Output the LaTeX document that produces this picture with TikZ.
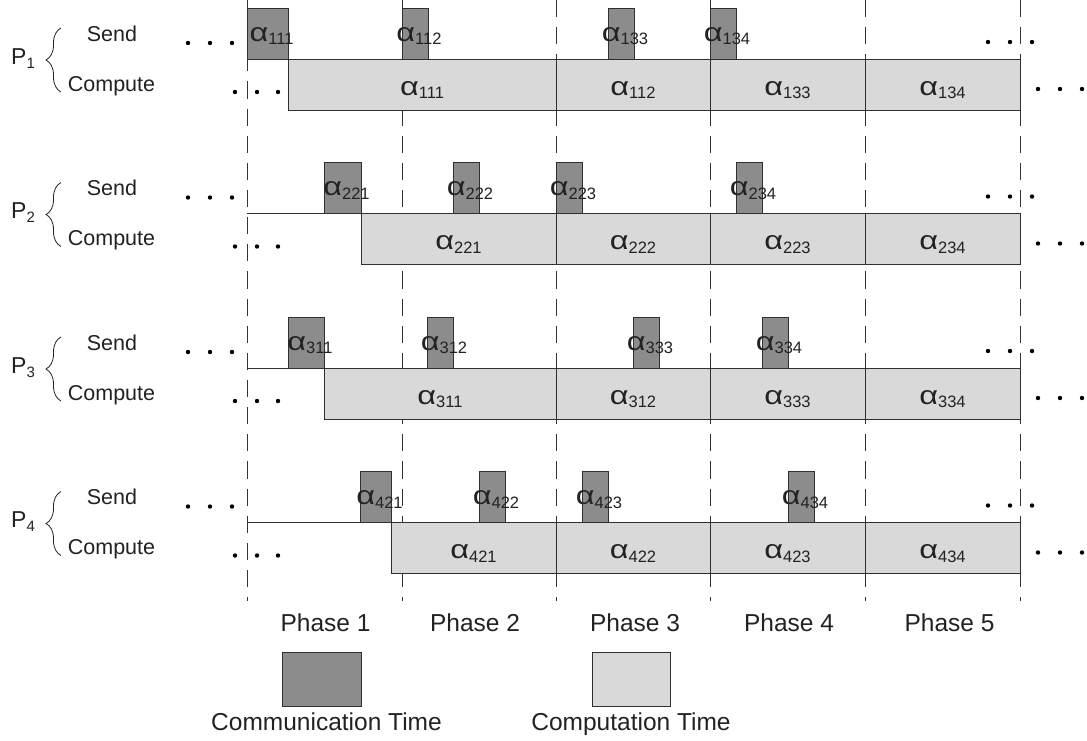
\documentclass[tikz,border=0pt]{standalone}
\usepackage{fontspec}
\usepackage{graphicx}
\setmainfont{Liberation Sans}
\usetikzlibrary{decorations.pathreplacing}
\definecolor{commgray}{HTML}{8C8C8C}
\definecolor{compgray}{HTML}{D9D9D9}
\definecolor{edgegray}{HTML}{303030}
\definecolor{txtgray}{HTML}{222222}
\newcommand\al[1]{\scalebox{1.25}[1]{α}\raisebox{-3.5pt}{\fontsize{16.5}{16.5}\selectfont #1}}
\begin{document}
\begin{tikzpicture}[x=1pt,y=-1pt,
  commbox/.style={draw=edgegray, fill=commgray, line width=0.9pt, inner sep=0pt, outer sep=0pt, minimum height=51pt},
  compbox/.style={draw=edgegray, fill=compgray, line width=0.9pt, inner sep=0pt, outer sep=0pt, minimum height=51pt},
  lab/.style={font=\fontsize{26}{26}\selectfont, text=txtgray, inner sep=0pt},
  rowtext/.style={font=\fontsize{21.5}{21.5}\selectfont, text=txtgray, inner sep=0pt, anchor=base},
  bigtext/.style={font=\fontsize{24.5}{24.5}\selectfont, text=txtgray, inner sep=0pt, anchor=base},
  phaseline/.style={draw=black!80, line width=1pt, dash pattern=on 17.14pt off 10pt},
  baseline/.style={draw=edgegray, line width=0.9pt},
  dotmark/.style={circle, fill=black, inner sep=0pt, minimum size=4.4pt},
  bracestyle/.style={draw=txtgray, line width=0.8pt, decorate, decoration={brace, amplitude=15pt}}
]
\useasboundingbox (0,0) rectangle (1087,740);

% phase boundary lines
\foreach \k/\x in {0/247,1/402,2/556,3/710,4/865,5/1020}{
  \coordinate (pt\k) at (\x,0);
  \coordinate (pb\k) at (\x,601);
  \draw[phaseline] (pt\k) -- (pb\k);
}

% compute boxes
\foreach \r/\i/\a/\b/\lab in {
  1/1/288/556/111, 1/2/556/710/112, 1/3/710/865/133, 1/4/865/1020/134,
  2/1/361/556/221, 2/2/556/710/222, 2/3/710/865/223, 2/4/865/1020/234,
  3/1/324/556/311, 3/2/556/710/312, 3/3/710/865/333, 3/4/865/1020/334,
  4/1/391/556/421, 4/2/556/710/422, 4/3/710/865/423, 4/4/865/1020/434}{
  \pgfmathsetmacro\L{59+(\r-1)*154.5}
  \node[compbox, anchor=north west, minimum width={\b-\a}] (c\r\i) at (\a,\L) {};
  \node[lab, anchor=base] (cl\r\i) at ({(\a+\b)/2},\L+36) {\al{\lab}};
}

% send boxes
\foreach \r/\i/\a/\b/\lab in {
  1/1/247/288/111, 1/2/402/428/112, 1/3/608/634/133, 1/4/710/736/134,
  2/1/324/361/221, 2/2/453/479/222, 2/3/556/582/223, 2/4/736/762/234,
  3/1/288/324/311, 3/2/427/453/312, 3/3/633/659/333, 3/4/762/788/334,
  4/1/360/391/421, 4/2/479/505/422, 4/3/582/608/423, 4/4/788/814/434}{
  \pgfmathsetmacro\L{59+(\r-1)*154.5}
  \node[commbox, anchor=south west, minimum width={\b-\a}] (s\r\i) at (\a,\L) {};
  \node[lab, anchor=base] (sl\r\i) at ({(\a+\b)/2+4},\L-18) {\al{\lab}};
}

% rows: baselines, labels, braces, dots
\foreach \r in {1,2,3,4}{
  \pgfmathsetmacro\L{59+(\r-1)*154.5}
  \coordinate (h\r) at (247,\L);
  \draw[baseline] (h\r) -- (c\r1.north west);
  \node[rowtext] (send\r) at (112,\L-18) {Send};
  \node[rowtext] (comp\r) at (111.5,\L+32) {Compute};
  \node[font=\fontsize{23}{23}\selectfont, text=txtgray, inner sep=0pt, anchor=base west] (p\r) at (11,\L+5)
    {P\raisebox{-4pt}{\fontsize{15}{15}\selectfont\r}};
  \coordinate (bb\r) at (61,\L+33);
  \coordinate (bt\r) at (61,\L-31);
  \draw[bracestyle] (bb\r) -- (bt\r);
  \foreach \j/\x in {1/188,2/210,3/232}{
    \node[dotmark] (dsl\r\j) at (\x,\L-16) {};
  }
  \foreach \j/\x in {1/235,2/257,3/278}{
    \node[dotmark] (dcl\r\j) at (\x,\L+33) {};
  }
  \foreach \j/\x in {1/988,2/1010,3/1032}{
    \node[dotmark] (dsr\r\j) at (\x,\L-17) {};
  }
  \foreach \j/\x in {1/1038,2/1060,3/1082}{
    \node[dotmark] (dcr\r\j) at (\x,\L+30) {};
  }
}

% phase labels
\node[bigtext] (ph1) at (325.5,631) {Phase 1};
\node[bigtext] (ph2) at (475,631) {Phase 2};
\node[bigtext] (ph3) at (635,631) {Phase 3};
\node[bigtext] (ph4) at (789,631) {Phase 4};
\node[bigtext] (ph5) at (949.5,631) {Phase 5};

% legend
\node[commbox, anchor=north west, minimum width=79pt, minimum height=54pt] (legcomm) at (282,652) {};
\node[compbox, anchor=north west, minimum width=78pt, minimum height=54pt] (legcomp) at (592,652) {};
\node[bigtext] (legcommt) at (326.5,730) {Communication Time};
\node[bigtext] (legcompt) at (631,730) {Computation Time};
\end{tikzpicture}
\end{document}
